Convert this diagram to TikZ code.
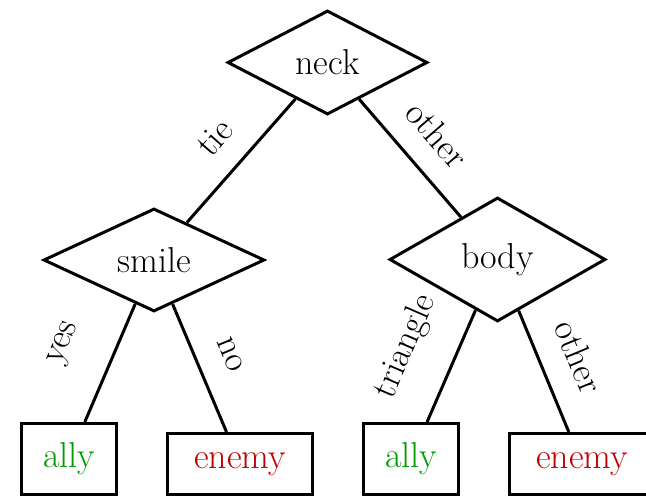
\documentclass[tikz,border=0pt]{standalone}
\usetikzlibrary{shapes.geometric}
\definecolor{allygreen}{RGB}{0,155,0}
\definecolor{enemyred}{RGB}{190,0,0}
\tikzset{
  every node/.style={font=\fontsize{18}{21}\selectfont},
  test/.style={draw, line width=1.5pt, shape=diamond, inner sep=0pt, shape aspect=2},
  leaf/.style={draw, line width=1.5pt, rectangle, inner sep=0pt},
  conn/.style={line width=1.5pt},
  lbl/.style={sloped, midway, inner sep=0pt}
}
\begin{document}
\begin{tikzpicture}[x=0.5pt, y=-0.5pt]
\clip (0,0) rectangle (646,496);
\fill[white] (0,0) rectangle (646,496);
\node[test, minimum width=100pt, minimum height=52pt] (neck) at (327.5,62.5) {neck};
\node[test, minimum width=110.5pt, minimum height=51.5pt] (smile) at (154,260) {smile};
\node[test, minimum width=108pt, minimum height=62pt] (body) at (497.5,259.5) {body};
\node[leaf, minimum width=47.5pt, minimum height=35.5pt, text=allygreen] (ally1) at (69,459) {ally};
\node[leaf, minimum width=72.5pt, minimum height=30.5pt, text=enemyred] (enemy1) at (240,464) {enemy};
\node[leaf, minimum width=47.5pt, minimum height=35.5pt, text=allygreen] (ally2) at (411,459) {ally};
\node[leaf, minimum width=72.5pt, minimum height=30.5pt, text=enemyred] (enemy2) at (582,464) {enemy};
\draw[conn] (neck) -- node[lbl, above=11pt] {tie} (smile);
\draw[conn] (neck) -- node[lbl, above=11pt] {other} (body);
\draw[conn] (smile) -- node[lbl, above=18pt] {yes} (ally1);
\draw[conn] (smile) -- node[lbl, above=12pt] {no} (enemy1);
\draw[conn] (body) -- node[lbl, above=16pt] {triangle} (ally2);
\draw[conn] (body) -- node[lbl, above=12pt] {other} (enemy2);
\end{tikzpicture}
\end{document}
